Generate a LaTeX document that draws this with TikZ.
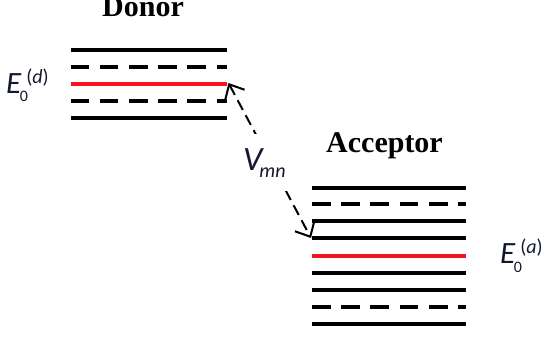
\documentclass[tikz,border=0pt]{standalone}
\usepackage{fontspec}
\setmainfont{Liberation Serif}
\newfontfamily\labelfont{Carlito}
\usetikzlibrary{arrows.meta}
\definecolor{levelred}{RGB}{245,20,30}
\definecolor{labelink}{RGB}{20,24,48}
% E with subscript 0 and a bracketed superscript
\newcommand\siteenergy[1]{\itshape E\rlap{\hspace{-1.5pt}\raisebox{-9pt}{\fontsize{16}{16}\selectfont\upshape 0}}\hspace{5pt}\raisebox{9.5pt}{\fontsize{20}{20}\selectfont\upshape(\itshape #1\upshape)}}
\begin{document}
\begin{tikzpicture}[x=1pt,y=-1pt,
  level/.style={line width=4pt},
  gappedlevel/.style={level, dash pattern=on 18.7pt off 10.5pt},
  groundlevel/.style={level, levelred},
  heading/.style={font=\bfseries\fontsize{30}{32}\selectfont, inner sep=0pt, anchor=base},
  energylabel/.style={font=\labelfont\fontsize{31}{31}\selectfont, text=labelink, inner sep=0pt, anchor=base west},
  coupling/.style={line width=2pt, dash pattern=on 11pt off 6pt,
    {Straight Barb[length=12pt,width=22pt,line width=2pt]}-{Straight Barb[length=12pt,width=22pt,line width=2pt]}}
]
\useasboundingbox (0,0) rectangle (544,337);

% donor manifold
\node[heading] (donor) at (143,17) {Donor};
\draw[level]       (70.5,50.5) -- (227,50.5);
\draw[gappedlevel] (70.5,67.5) -- (227,67.5);
\draw[groundlevel] (70.5,84.5) coordinate (dL) -- (227,84.5) coordinate (dR);
\draw[gappedlevel] (70.5,101.5) -- (227,101.5);
\draw[level]       (70.5,118) -- (227,118);

% acceptor manifold
\node[heading] (acceptor) at (384.5,153) {Acceptor};
\draw[level]       (312,187.5) -- (466,187.5);
\draw[gappedlevel] (312,204) -- (466,204);
\draw[level]       (312,221) -- (466,221);
\draw[level]       (312,238) coordinate (aL) -- (466,238);
\draw[groundlevel] (312,256) -- (466,256);
\draw[level]       (312,273) -- (466,273);
\draw[level]       (312,290) -- (466,290);
\draw[gappedlevel] (312,307) -- (466,307);
\draw[level]       (312,324) -- (466,324);

% site energies
\node[energylabel] (Ed) at (6,93) {\siteenergy{d}};
\node[energylabel] (Ea) at (500,263) {\siteenergy{a}};

% coupling between the two ground levels
\draw[coupling] ([xshift=1.5pt,yshift=1.5pt]dR) -- ([xshift=-1pt]aL)
  node[pos=0.52, xshift=-7pt, yshift=1pt, fill=white, inner xsep=3pt, inner ysep=14pt, text=labelink]
  (V) {\labelfont\fontsize{34}{34}\selectfont\itshape V\hspace{-3pt}\raisebox{-7pt}{\fontsize{20}{20}\selectfont mn}};
\end{tikzpicture}
\end{document}
